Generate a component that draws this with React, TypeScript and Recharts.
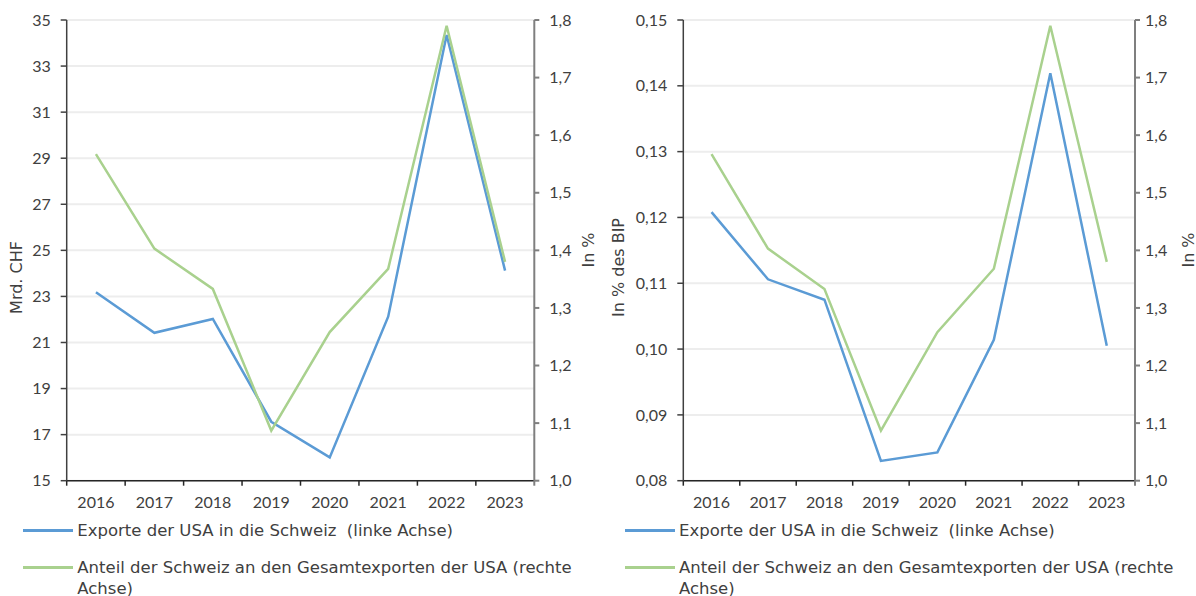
import React from 'react';
import { LineChart, Line, XAxis, YAxis, CartesianGrid, Legend } from 'recharts';

const years = ['2016', '2017', '2018', '2019', '2020', '2021', '2022', '2023'];
const exportsChf = [23.18, 21.42, 22.02, 17.56, 16.01, 22.12, 34.35, 24.12];
const exportsGdp = [0.1208, 0.1106, 0.1075, 0.083, 0.0843, 0.1014, 0.1419, 0.1005];
const shareSwiss = [1.567, 1.403, 1.333, 1.087, 1.258, 1.368, 1.79, 1.38];

const leftTicksChf = [15, 17, 19, 21, 23, 25, 27, 29, 31, 33, 35];
const leftTicksGdp = [0.08, 0.09, 0.1, 0.11, 0.12, 0.13, 0.14, 0.15];
const rightTicks = [1.0, 1.1, 1.2, 1.3, 1.4, 1.5, 1.6, 1.7, 1.8];

const nameExports = 'Exporte der USA in die Schweiz\u00a0 (linke Achse)';
const nameShare = 'Anteil der Schweiz an den Gesamtexporten der USA (rechte Achse)';
const seriesOrder = ['exp', 'share'];

const BLUE = '#5B9BD5';
const GREEN = '#A9D18E';
const TEXT = '#404040';
const NUMFONT = 'Lato, "Noto Sans", sans-serif';
const TXTFONT = '"DejaVu Sans", Verdana, sans-serif';

const data1 = years.map((year, i) => ({ year, exp: exportsChf[i], share: shareSwiss[i] }));
const data2 = years.map((year, i) => ({ year, exp: exportsGdp[i], share: shareSwiss[i] }));

const comma = (d: number) => (v: number) => v.toFixed(d).replace('.', ',');

const tickStyle = { fill: TEXT, fontSize: 16, fontFamily: NUMFONT };

const X_TICK_SIZE = 5;
const X_TICK_MARGIN = 11;

const XTick = (props: any) => {
  const { x, y, payload, index, visibleTicksCount, width } = props;
  const half =
    payload && typeof payload.offset === 'number' && payload.offset > 0
      ? payload.offset
      : (width || 0) / (2 * (visibleTicksCount || 8));
  const y0 = y - X_TICK_SIZE - X_TICK_MARGIN;
  return (
    <g>
      <line x1={x - half} x2={x - half} y1={y0} y2={y0 + X_TICK_SIZE} stroke="#262626" strokeWidth={1.5} />
      {index === (visibleTicksCount || 8) - 1 ? (
        <line x1={x + half} x2={x + half} y1={y0} y2={y0 + X_TICK_SIZE} stroke="#7F7F7F" strokeWidth={2} />
      ) : null}
      <text x={x} y={y} dy="0.71em" textAnchor="middle" fill={TEXT} fontSize={16} fontFamily={NUMFONT}>
        {payload.value}
      </text>
    </g>
  );
};

const makeTitle = (text: string, x: number, y: number) => () => (
  <text
    x={x}
    y={y}
    transform={`rotate(-90 ${x} ${y})`}
    textAnchor="middle"
    dominantBaseline="central"
    fill={TEXT}
    fontSize={16}
    fontFamily={TXTFONT}
  >
    {text}
  </text>
);

const makeLegend = (lineLeft: number, textLeft: number) => (props: any) => {
  const payload = ((props.payload || []) as any[])
    .slice()
    .sort((a, b) => seriesOrder.indexOf(a.dataKey) - seriesOrder.indexOf(b.dataKey));
  return (
    <div style={{ fontFamily: TXTFONT, fontSize: 16.5, color: TEXT, position: 'relative' }}>
      {payload.map((p, i) => (
        <div key={i} style={{ position: 'relative', height: i === 0 ? 37.3 : 42, lineHeight: '21px' }}>
          <div
            style={{
              position: 'absolute',
              left: lineLeft,
              top: 9,
              width: 50,
              height: 2.5,
              background: p.color,
            }}
          />
          <div style={{ position: 'absolute', left: textLeft, top: 0, width: 515, whiteSpace: 'normal' }}>
            {p.value}
          </div>
        </div>
      ))}
    </div>
  );
};

function Chart(props: {
  data: any[];
  width: number;
  left: number;
  leftTicks: number[];
  leftDomain: [number, number];
  leftFmt: (v: number) => string;
  leftWidth: number;
  marginLeft: number;
  marginRight: number;
  rightTickMargin: number;
  leftTitle: string;
  leftTitleX: number;
  leftTitleY: number;
  rightTitleX: number;
  legendLine: number;
  legendText: number;
}) {
  const p = props;
  return (
    <div style={{ position: 'absolute', left: p.left, top: 0 }}>
      <LineChart
        width={p.width}
        height={596}
        data={p.data}
        margin={{ top: 20, right: p.marginRight, left: p.marginLeft, bottom: 85.3 }}
      >
        <CartesianGrid yAxisId="l" vertical={false} stroke="#EDEDED" strokeWidth={2} />
        <XAxis
          dataKey="year"
          scale="band"
          height={30}
          tick={<XTick />}
          tickSize={X_TICK_SIZE}
          tickMargin={X_TICK_MARGIN}
          tickLine={false}
          stroke="#262626"
          strokeWidth={1.5}
          interval={0}
        />
        <YAxis
          yAxisId="l"
          orientation="left"
          width={p.leftWidth}
          domain={p.leftDomain}
          ticks={p.leftTicks}
          tickFormatter={p.leftFmt}
          allowDataOverflow
          tick={tickStyle}
          tickSize={6}
          tickMargin={10}
          stroke="#404040"
          strokeWidth={1.5}
          label={{ content: makeTitle(p.leftTitle, p.leftTitleX, p.leftTitleY) }}
        />
        <YAxis
          yAxisId="r"
          orientation="right"
          width={50}
          domain={[1.0, 1.8]}
          ticks={rightTicks}
          tickFormatter={comma(1)}
          allowDataOverflow
          tick={tickStyle}
          tickSize={5}
          tickMargin={p.rightTickMargin}
          stroke="#7F7F7F"
          strokeWidth={2}
          label={{ content: makeTitle('In %', p.rightTitleX, 250) }}
        />
        <Line
          yAxisId="l"
          dataKey="exp"
          name={nameExports}
          stroke={BLUE}
          strokeWidth={2.5}
          dot={false}
          isAnimationActive={false}
        />
        <Line
          yAxisId="r"
          dataKey="share"
          name={nameShare}
          stroke={GREEN}
          strokeWidth={2.5}
          dot={false}
          isAnimationActive={false}
        />
        <Legend
          layout="vertical"
          align="center"
          verticalAlign="middle"
          wrapperStyle={{ left: 0, top: 520, width: p.width }}
          content={makeLegend(p.legendLine, p.legendText)}
        />
      </LineChart>
    </div>
  );
}

export default function App() {
  return (
    <div style={{ position: 'absolute', left: 0, top: 0, width: 1196, height: 596, background: '#fff' }}>
      <Chart
        data={data1}
        width={600}
        left={0}
        leftTicks={leftTicksChf}
        leftDomain={[15, 35]}
        leftFmt={(v: number) => String(v)}
        leftWidth={50}
        marginLeft={16.7}
        marginRight={15.7}
        rightTickMargin={10}
        leftTitle="Mrd. CHF"
        leftTitleX={16}
        leftTitleY={277.5}
        rightTitleX={588}
        legendLine={23}
        legendText={77.3}
      />
      <Chart
        data={data2}
        width={598}
        left={598}
        leftTicks={leftTicksGdp}
        leftDomain={[0.08, 0.15]}
        leftFmt={comma(2)}
        leftWidth={60}
        marginLeft={25.3}
        marginRight={11}
        rightTickMargin={5}
        leftTitle="In % des BIP"
        leftTitleX={20}
        leftTitleY={267.5}
        rightTitleX={590}
        legendLine={27}
        legendText={81}
      />
    </div>
  );
}
